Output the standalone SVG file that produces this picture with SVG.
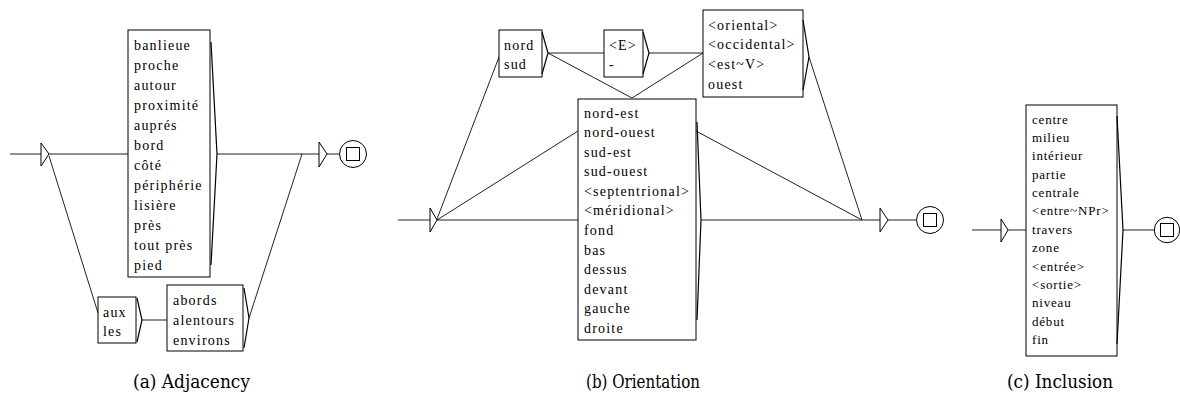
<svg xmlns="http://www.w3.org/2000/svg" width="1180" height="403" viewBox="0 0 1180 403">
<style>
.bx{fill:#fff;stroke:#000;stroke-width:1}
.br{fill:none;stroke:#000;stroke-width:1.2}
.ln{fill:none;stroke:#222;stroke-width:1}
text{font-family:'Liberation Serif','DejaVu Serif',serif}
.t{font-size:14px;letter-spacing:1.2px;fill:#000}
.tc{font-size:13px;letter-spacing:0.8px;fill:#000}
.cap{font-family:'DejaVu Serif',serif;font-size:18px;fill:#000;text-anchor:middle}
.st{fill:#fff;stroke:#000;stroke-width:1}
</style>
<rect width="1180" height="403" fill="#fff"/>

<!-- connectors -->
<g id="connectors">
  <path class="ln" d="M10,154 H41 M49,154 H128 M217,154 H319 M327,154 H339"/>
  <path class="ln" d="M49,156 L98,313 M142,320 H167 M249,318 L302,154"/>
  <path class="ln" d="M398,220 H430 M437,220 H578 M701,220 H880 M888,220 H916"/>
  <path class="ln" d="M437,219 L499,57 M437,220 L578,131 M548,53 H604 M649,53 H703"/>
  <path class="ln" d="M548,53 L632,98 L703,53 M696,131 L862,220 M809,57 L862,220"/>
  <path class="ln" d="M972,230 H1001 M1008,230 H1026 M1123,230 H1154"/>
</g>

<!-- (a) Adjacency -->
<g id="a_init"><path class="st" d="M41,143 L49,154 L41,166 Z"/></g>
<g id="a_list">
  <rect class="bx" x="128" y="30" width="82" height="247"/>
  <path class="br" d="M211,42 L217,154 L211,265"/>
  <text class="t" x="134" y="49.5">banlieue</text>
  <text class="t" x="134" y="69.5">proche</text>
  <text class="t" x="134" y="89.5">autour</text>
  <text class="t" x="134" y="109.5">proximité</text>
  <text class="t" x="134" y="129.5">auprés</text>
  <text class="t" x="134" y="149.5">bord</text>
  <text class="t" x="134" y="169.5">côté</text>
  <text class="t" x="134" y="189.5">périphérie</text>
  <text class="t" x="134" y="209.5">lisière</text>
  <text class="t" x="134" y="229.5">près</text>
  <text class="t" x="134" y="249.5">tout près</text>
  <text class="t" x="134" y="269.5">pied</text>
</g>
<g id="a_aux">
  <rect class="bx" x="98" y="297" width="38" height="46"/>
  <path class="br" d="M137,298 L142,320 L137,342"/>
  <text class="t" x="103" y="316.5">aux</text>
  <text class="t" x="103" y="335.5">les</text>
</g>
<g id="a_abords">
  <rect class="bx" x="167" y="285" width="76" height="66"/>
  <path class="br" d="M244,288 L249,318 L244,348"/>
  <text class="t" x="173" y="305">abords</text>
  <text class="t" x="173" y="325">alentours</text>
  <text class="t" x="173" y="345">environs</text>
</g>
<g id="a_final">
  <path class="st" d="M319,142 L327,154 L319,167 Z"/>
  <circle class="st" cx="353" cy="154" r="13.5"/>
  <rect class="st" x="346.5" y="147.5" width="13" height="13"/>
</g>

<!-- (b) Orientation -->
<g id="b_init"><path class="st" d="M430,208 L437,220 L430,232 Z"/></g>
<g id="b_nordsud">
  <rect class="bx" x="499" y="30" width="43" height="47"/>
  <path class="br" d="M542,32 L548,53 L542,74"/>
  <text class="t" x="504" y="49.5">nord</text>
  <text class="t" x="504" y="68.5">sud</text>
</g>
<g id="b_E">
  <rect class="bx" x="604" y="30" width="39" height="47"/>
  <path class="br" d="M643,32 L649,53 L643,74"/>
  <text class="t" x="609" y="49.5">&lt;E&gt;</text>
  <text class="t" x="609" y="68.5">-</text>
</g>
<g id="b_oriental">
  <rect class="bx" x="703" y="10" width="100" height="87"/>
  <path class="br" d="M803,20 L809,57 L803,90"/>
  <text class="t" x="708" y="29.5">&lt;oriental&gt;</text>
  <text class="t" x="708" y="49">&lt;occidental&gt;</text>
  <text class="t" x="708" y="68.5">&lt;est~V&gt;</text>
  <text class="t" x="708" y="88.5">ouest</text>
</g>
<g id="b_list">
  <rect class="bx" x="578" y="99" width="118" height="241"/>
  <path class="br" d="M697,122 L701,220 L697,320"/>
  <text class="t" x="584" y="117.5">nord-est</text>
  <text class="t" x="584" y="137">nord-ouest</text>
  <text class="t" x="584" y="156.5">sud-est</text>
  <text class="t" x="584" y="176">sud-ouest</text>
  <text class="t" x="584" y="195.5">&lt;septentrional&gt;</text>
  <text class="t" x="584" y="215">&lt;méridional&gt;</text>
  <text class="t" x="584" y="235">fond</text>
  <text class="t" x="584" y="254.5">bas</text>
  <text class="t" x="584" y="274">dessus</text>
  <text class="t" x="584" y="293.5">devant</text>
  <text class="t" x="584" y="313">gauche</text>
  <text class="t" x="584" y="332.5">droite</text>
</g>
<g id="b_final">
  <path class="st" d="M880,208 L888,220 L880,232 Z"/>
  <circle class="st" cx="930" cy="220" r="13.5"/>
  <rect class="st" x="923.5" y="213.5" width="13" height="13"/>
</g>

<!-- (c) Inclusion -->
<g id="c_init"><path class="st" d="M1001,219 L1008,230 L1001,242 Z"/></g>
<g id="c_list">
  <rect class="bx" x="1026" y="105" width="91" height="251"/>
  <path class="br" d="M1117,116 L1123,230 L1117,344"/>
  <text class="tc" x="1032" y="123.5">centre</text>
  <text class="tc" x="1032" y="142">milieu</text>
  <text class="tc" x="1032" y="160.3">intérieur</text>
  <text class="tc" x="1032" y="178.7">partie</text>
  <text class="tc" x="1032" y="197">centrale</text>
  <text class="tc" x="1032" y="215.4">&lt;entre~NPr&gt;</text>
  <text class="tc" x="1032" y="233.8">travers</text>
  <text class="tc" x="1032" y="252.2">zone</text>
  <text class="tc" x="1032" y="270.5">&lt;entrée&gt;</text>
  <text class="tc" x="1032" y="288.9">&lt;sortie&gt;</text>
  <text class="tc" x="1032" y="307.3">niveau</text>
  <text class="tc" x="1032" y="325.6">début</text>
  <text class="tc" x="1032" y="344">fin</text>
</g>
<g id="c_final">
  <circle class="st" cx="1167" cy="230" r="12.7"/>
  <rect class="st" x="1160.5" y="223.5" width="13" height="13"/>
</g>

<!-- captions -->
<g id="captions">
  <text class="cap" x="191.5" y="388" textLength="117" lengthAdjust="spacingAndGlyphs">(a) Adjacency</text>
  <text class="cap" x="643" y="388" textLength="114" lengthAdjust="spacingAndGlyphs">(b) Orientation</text>
  <text class="cap" x="1060" y="388" textLength="106" lengthAdjust="spacingAndGlyphs">(c) Inclusion</text>
</g>
</svg>
